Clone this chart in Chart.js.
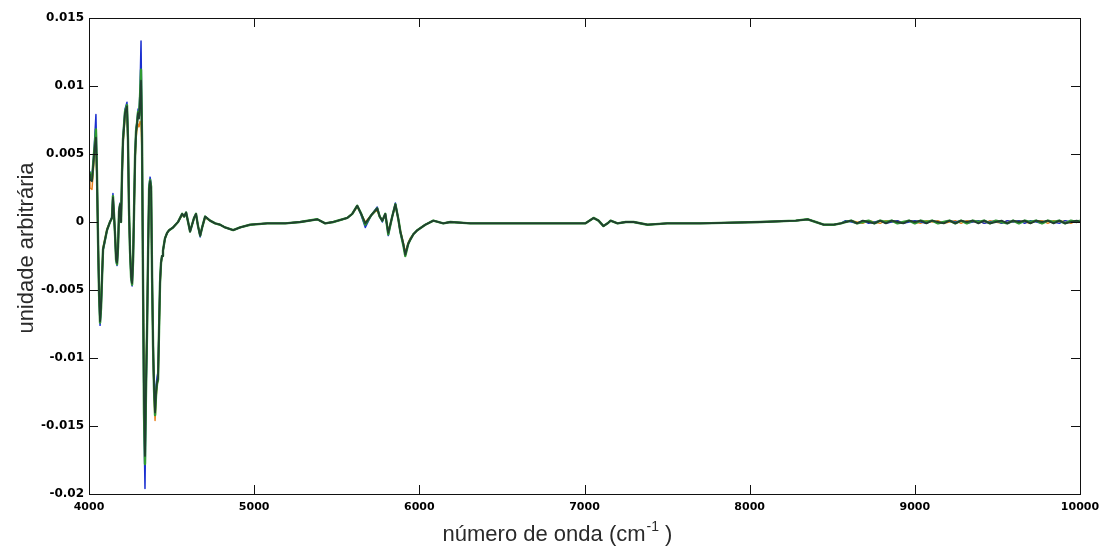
<!DOCTYPE html>
<html><head><meta charset="utf-8">
<script src="https://cdn.jsdelivr.net/npm/chart.js@4/dist/chart.umd.min.js"></script>
<style>html,body{margin:0;padding:0;background:#fff}#wrap{width:1102px;height:547px}</style>
</head><body><div id="wrap"><canvas id="c" width="1102" height="547"></canvas></div>
<script>
const wavenumbers = [
4000,4006,4018,4030,4036,4042,4048,4055,4061,4067,
4073,4079,4085,4097,4109,4127,4139,4145,4152,4158,
4164,4170,4176,4182,4188,4194,4200,4206,4218,4230,
4236,4242,4248,4255,4261,4267,4273,4279,4285,4291,
4297,4303,4309,4315,4321,4327,4333,4339,4345,4352,
4358,4364,4370,4376,4382,4388,4394,4400,4406,4412,
4418,4424,4430,4436,4442,4448,4460,4473,4485,4509,
4539,4564,4576,4588,4600,4612,4624,4636,4648,4660,
4673,4685,4703,4733,4764,4794,4824,4873,4915,4976,
5079,5188,5279,5382,5430,5479,5564,5594,5624,5648,
5673,5709,5745,5760,5776,5794,5812,5836,5855,5873,
5885,5903,5915,5933,5945,5964,5988,6036,6085,6145,
6188,6309,6491,6673,6855,7006,7055,7085,7115,7140,
7158,7200,7250,7297,7382,7500,7703,8067,8279,8352,
8400,8448,8509,8552,
8580,8615,8650,8685,8720,8755,8790,8825,8860,8895,
8930,8965,9000,9035,9070,9105,9140,9175,9210,9245,
9280,9315,9350,9385,9420,9455,9490,9525,9560,9595,
9630,9665,9700,9735,9770,9805,9840,9875,9910,9945,
9980,10000];

const seriesDark = [
0.0035,0.0031,0.0030,0.0048,0.0056,0.0062,0.0035,-0.0015,-0.0052,-0.0073,
-0.0062,-0.0040,-0.0020,-0.0013,-0.0006,0.0000,0.0003,0.0018,0.0004,-0.0010,
-0.0027,-0.0030,-0.0018,0.0008,0.0013,0.0000,0.0035,0.0060,0.0080,0.0085,
0.0060,0.0010,-0.0020,-0.0040,-0.0045,-0.0028,0.0010,0.0048,0.0066,0.0072,
0.0080,0.0076,0.0088,0.0104,0.0060,-0.0040,-0.0130,-0.0172,-0.0120,-0.0075,
-0.0020,0.0024,0.0030,0.0025,-0.0040,-0.0090,-0.0122,-0.0140,-0.0125,-0.0118,
-0.0115,-0.0080,-0.0045,-0.0030,-0.0025,-0.0021,-0.0012,-0.0008,-0.0006,-0.0004,
0.0000,0.0006,0.0004,0.0007,0.0000,-0.0007,-0.0002,0.0003,0.0006,-0.0003,
-0.0010,-0.0004,0.0004,0.0001,-0.0001,-0.0002,-0.0004,-0.0006,-0.0004,-0.0002,
-0.0001,-0.0001,0.0000,0.0002,-0.0001,0.0000,0.0003,0.0006,0.0012,0.0006,
-0.0001,0.0005,0.0010,0.0004,0.0001,0.0006,-0.0008,0.0004,0.0013,0.0002,
-0.0007,-0.0016,-0.0024,-0.0016,-0.0013,-0.0009,-0.0006,-0.0002,0.0001,-0.0001,
0.0000,-0.0001,-0.0001,-0.0001,-0.0001,-0.0001,0.0003,0.0001,-0.0003,-0.0001,
0.0001,-0.0001,0.0000,0.0000,-0.0002,-0.0001,-0.0001,0.0000,0.0001,0.0002,
0.0000,-0.0002,-0.0002,-0.0001,
0.0000,0.0001,-0.0001,0.0001,0.0000,-0.0001,0.0001,-0.0001,0.0001,0.0000,
-0.0001,0.0001,0.0000,0.0001,-0.0001,0.0001,0.0000,-0.0001,0.0001,-0.0001,
0.0001,0.0000,0.0001,-0.0001,0.0001,-0.0001,0.0000,0.0001,-0.0001,0.0001,
0.0000,0.0001,-0.0001,0.0001,0.0000,0.0001,-0.0001,0.0001,-0.0001,0.0000,
0.0001,0.0000];

const seriesGreen = [
0.0036,0.0032,0.0031,0.0050,0.0058,0.0068,0.0037,-0.0015,-0.0053,-0.0074,
-0.0063,-0.0041,-0.0020,-0.0013,-0.0006,0.0000,0.0003,0.0019,0.0004,-0.0010,
-0.0028,-0.0031,-0.0018,0.0008,0.0013,0.0000,0.0036,0.0061,0.0081,0.0086,
0.0061,0.0010,-0.0020,-0.0041,-0.0046,-0.0028,0.0010,0.0049,0.0067,0.0073,
0.0081,0.0078,0.0092,0.0112,0.0062,-0.0042,-0.0140,-0.0178,-0.0125,-0.0076,
-0.0020,0.0025,0.0031,0.0026,-0.0041,-0.0092,-0.0124,-0.0142,-0.0127,-0.0119,
-0.0116,-0.0080,-0.0045,-0.0030,-0.0025,-0.0021,-0.0012,-0.0008,-0.0006,-0.0004,
0.0000,0.0006,0.0004,0.0007,0.0000,-0.0007,-0.0002,0.0003,0.0006,-0.0003,
-0.0010,-0.0004,0.0004,0.0001,-0.0001,-0.0002,-0.0004,-0.0006,-0.0004,-0.0002,
-0.0001,-0.0001,0.0000,0.0002,-0.0001,0.0000,0.0003,0.0006,0.0012,0.0006,
-0.0002,0.0005,0.0010,0.0004,0.0001,0.0006,-0.0009,0.0004,0.0013,0.0002,
-0.0007,-0.0017,-0.0025,-0.0016,-0.0013,-0.0009,-0.0006,-0.0002,0.0001,-0.0001,
0.0000,-0.0001,-0.0001,-0.0001,-0.0001,-0.0001,0.0003,0.0001,-0.0003,-0.0001,
0.0001,-0.0001,0.0000,0.0000,-0.0002,-0.0001,-0.0001,0.0000,0.0001,0.0002,
0.0000,-0.0002,-0.0002,-0.0001,
0.0000,0.0001,-0.0001,0.0000,0.0001,-0.0001,0.0001,0.0000,0.0001,-0.0001,
0.0000,0.0001,-0.0001,0.0001,0.0000,0.0001,-0.0001,0.0000,0.0001,-0.0001,
0.0001,-0.0001,0.0001,0.0000,0.0001,-0.0001,0.0001,0.0000,-0.0001,0.0001,
-0.0001,0.0001,0.0000,0.0001,-0.0001,0.0001,0.0000,0.0001,-0.0001,0.0001,
0.0000,0.0001];

const seriesBlue = [
0.0037,0.0033,0.0032,0.0052,0.0065,0.0079,0.0040,-0.0016,-0.0055,-0.0076,
-0.0064,-0.0042,-0.0021,-0.0014,-0.0006,0.0000,0.0004,0.0021,0.0005,-0.0011,
-0.0029,-0.0032,-0.0019,0.0009,0.0014,0.0000,0.0037,0.0063,0.0083,0.0088,
0.0062,0.0010,-0.0021,-0.0042,-0.0047,-0.0029,0.0011,0.0050,0.0069,0.0074,
0.0083,0.0080,0.0098,0.0133,0.0065,-0.0045,-0.0150,-0.0196,-0.0130,-0.0078,
-0.0020,0.0027,0.0033,0.0028,-0.0042,-0.0094,-0.0126,-0.0135,-0.0120,-0.0114,
-0.0110,-0.0078,-0.0044,-0.0030,-0.0025,-0.0021,-0.0012,-0.0008,-0.0006,-0.0004,
0.0000,0.0006,0.0004,0.0007,0.0000,-0.0007,-0.0002,0.0003,0.0006,-0.0003,
-0.0011,-0.0004,0.0004,0.0001,-0.0001,-0.0002,-0.0004,-0.0006,-0.0004,-0.0002,
-0.0001,-0.0001,0.0000,0.0002,-0.0001,0.0000,0.0003,0.0006,0.0012,0.0005,
-0.0004,0.0005,0.0011,0.0004,0.0000,0.0006,-0.0010,0.0004,0.0014,0.0002,
-0.0008,-0.0017,-0.0023,-0.0016,-0.0013,-0.0009,-0.0006,-0.0002,0.0001,-0.0001,
0.0000,-0.0001,-0.0001,-0.0001,-0.0001,-0.0001,0.0003,0.0001,-0.0003,-0.0001,
0.0001,-0.0001,0.0000,0.0000,-0.0002,-0.0001,-0.0001,0.0000,0.0001,0.0002,
0.0000,-0.0002,-0.0002,-0.0001,
0.0001,0.0000,-0.0001,0.0001,-0.0001,0.0000,0.0001,-0.0001,0.0000,0.0001,
-0.0001,0.0000,0.0001,0.0000,-0.0001,0.0001,-0.0001,0.0000,0.0001,0.0000,
0.0001,-0.0001,0.0000,0.0001,-0.0001,0.0000,0.0001,-0.0001,0.0001,0.0000,
0.0001,-0.0001,0.0001,0.0000,-0.0001,0.0001,0.0000,-0.0001,0.0001,0.0000,
0.0001,0.0000];

const seriesOrange = [
0.0030,0.0025,0.0024,0.0044,0.0052,0.0058,0.0033,-0.0014,-0.0050,-0.0070,
-0.0060,-0.0039,-0.0019,-0.0012,-0.0005,0.0000,0.0003,0.0016,0.0004,-0.0009,
-0.0026,-0.0029,-0.0017,0.0007,0.0012,0.0000,0.0033,0.0057,0.0077,0.0081,
0.0058,0.0009,-0.0019,-0.0038,-0.0043,-0.0027,0.0009,0.0045,0.0062,0.0068,
0.0072,0.0070,0.0074,0.0072,0.0050,-0.0035,-0.0120,-0.0165,-0.0115,-0.0072,
-0.0019,0.0022,0.0028,0.0023,-0.0042,-0.0095,-0.0128,-0.0146,-0.0130,-0.0120,
-0.0116,-0.0081,-0.0046,-0.0031,-0.0025,-0.0021,-0.0012,-0.0008,-0.0006,-0.0004,
0.0000,0.0005,0.0004,0.0006,0.0000,-0.0006,-0.0002,0.0003,0.0005,-0.0003,
-0.0009,-0.0004,0.0003,0.0001,-0.0001,-0.0002,-0.0004,-0.0006,-0.0004,-0.0002,
-0.0001,-0.0001,0.0000,0.0002,-0.0001,0.0000,0.0003,0.0006,0.0011,0.0006,
0.0000,0.0005,0.0009,0.0004,0.0001,0.0005,-0.0007,0.0004,0.0012,0.0002,
-0.0006,-0.0015,-0.0022,-0.0015,-0.0012,-0.0009,-0.0006,-0.0002,0.0001,-0.0001,
0.0000,-0.0001,-0.0001,-0.0001,-0.0001,-0.0001,0.0003,0.0001,-0.0003,-0.0001,
0.0001,-0.0001,0.0000,0.0000,-0.0002,-0.0001,-0.0001,0.0000,0.0001,0.0002,
0.0000,-0.0002,-0.0002,-0.0001,
0.0000,0.0001,0.0000,-0.0001,0.0001,0.0000,-0.0001,0.0001,0.0000,0.0001,
-0.0001,0.0001,0.0000,-0.0001,0.0001,0.0000,0.0001,-0.0001,0.0000,0.0001,
-0.0001,0.0001,0.0000,0.0001,-0.0001,0.0001,0.0000,-0.0001,0.0001,0.0000,
0.0001,0.0000,-0.0001,0.0001,0.0001,-0.0001,0.0001,0.0000,0.0001,-0.0001,
0.0001,0.0000];

const xTickLabels = ['4000','5000','6000','7000','8000','9000','10000'];
const yTickLabels = ['-0.02','-0.015','-0.01','-0.005','0','0.005','0.01','0.015'];
const xTitleMain = 'número de onda (cm';
const xTitleSup = '-1';
const xTitleEnd = ' )';
const yTitle = 'unidade arbitrária';

[seriesDark, seriesGreen, seriesBlue, seriesOrange].forEach((s, i) => {
  if (s.length !== wavenumbers.length) throw new Error('series ' + i + ' length ' + s.length + ' vs ' + wavenumbers.length);
});

const toPoints = vals => wavenumbers.map((x, i) => ({ x: x, y: vals[i] }));

const frame = {
  id: 'frame',
  afterDatasetsDraw(chart) {
    const ctx = chart.ctx, a = chart.chartArea;
    const xs = chart.scales.x, ys = chart.scales.y;
    ctx.save();
    ctx.strokeStyle = '#111';
    ctx.lineWidth = 1;
    ctx.strokeRect(Math.round(a.left) + 0.5, Math.round(a.top) + 0.5, Math.round(a.right - a.left), Math.round(a.bottom - a.top));
    const L = 9;
    ctx.beginPath();
    xs.ticks.forEach(t => {
      const p = Math.round(xs.getPixelForValue(t.value)) + 0.5;
      ctx.moveTo(p, a.bottom); ctx.lineTo(p, a.bottom - L);
      ctx.moveTo(p, a.top); ctx.lineTo(p, a.top + L);
    });
    ys.ticks.forEach(t => {
      const p = Math.round(ys.getPixelForValue(t.value)) + 0.5;
      ctx.moveTo(a.left, p); ctx.lineTo(a.left + L, p);
      ctx.moveTo(a.right, p); ctx.lineTo(a.right - L, p);
    });
    ctx.stroke();
    ctx.restore();
  },
  afterDraw(chart) {
    const ctx = chart.ctx;
    ctx.save();
    ctx.fillStyle = '#2a2a2a';
    ctx.textBaseline = 'alphabetic';
    ctx.textAlign = 'left';
    const big = '22px "Liberation Sans", Arial, sans-serif';
    const small = '14px "Liberation Sans", Arial, sans-serif';
    ctx.font = big; const w1 = ctx.measureText(xTitleMain).width; const w3 = ctx.measureText(xTitleEnd).width;
    ctx.font = small; const w2 = ctx.measureText(xTitleSup).width;
    let x0 = 557 - (w1 + w2 + w3) / 2;
    const base = 541;
    ctx.font = big; ctx.fillText(xTitleMain, x0, base);
    ctx.font = small; ctx.fillText(xTitleSup, x0 + w1 + 1, base - 10);
    ctx.font = big; ctx.fillText(xTitleEnd, x0 + w1 + w2 + 1, base);
    ctx.translate(33, 248);
    ctx.rotate(-Math.PI / 2);
    ctx.textAlign = 'center';
    ctx.font = big;
    ctx.fillText(yTitle, 0, 0);
    ctx.restore();
  }
};

new Chart(document.getElementById('c'), {
  type: 'line',
  data: {
    datasets: [
      { label: 'a', data: toPoints(seriesDark), borderColor: '#21402f', borderWidth: 1.8 },
      { label: 'b', data: toPoints(seriesGreen), borderColor: '#2f9a32', borderWidth: 2.4 },
      { label: 'c', data: toPoints(seriesBlue), borderColor: '#1a2fd0', borderWidth: 1.5 },
      { label: 'd', data: toPoints(seriesOrange), borderColor: '#e8821e', borderWidth: 1.5 }
    ]
  },
  options: {
    responsive: false,
    animation: false,
    devicePixelRatio: 1,
    elements: { point: { radius: 0 }, line: { tension: 0, fill: false, borderJoinStyle: 'round' } },
    layout: { padding: { left: 0, right: 22, top: 18, bottom: 0 } },
    plugins: { legend: { display: false }, tooltip: { enabled: false } },
    scales: {
      x: {
        type: 'linear', min: 4000, max: 10000,
        grid: { display: false, drawTicks: false },
        border: { display: false },
        ticks: {
          stepSize: 1000, autoSkip: false, maxRotation: 0, padding: 7, color: '#000',
          font: { family: '"DejaVu Sans", sans-serif', weight: 'bold', size: 11 },
          callback: (v, i) => xTickLabels[i]
        },
        afterFit: s => { s.height = 53; s.paddingLeft = 0; s.paddingRight = 0; }
      },
      y: {
        type: 'linear', min: -0.02, max: 0.015,
        grid: { display: false, drawTicks: false },
        border: { display: false },
        ticks: {
          stepSize: 0.005, autoSkip: false, padding: 5, color: '#000',
          font: { family: '"DejaVu Sans", sans-serif', weight: 'bold', size: 12 },
          callback: (v, i) => yTickLabels[i]
        },
        afterFit: s => { s.width = 89; s.paddingTop = 0; s.paddingBottom = 0; }
      }
    }
  },
  plugins: [frame]
});
</script>
</body></html>
